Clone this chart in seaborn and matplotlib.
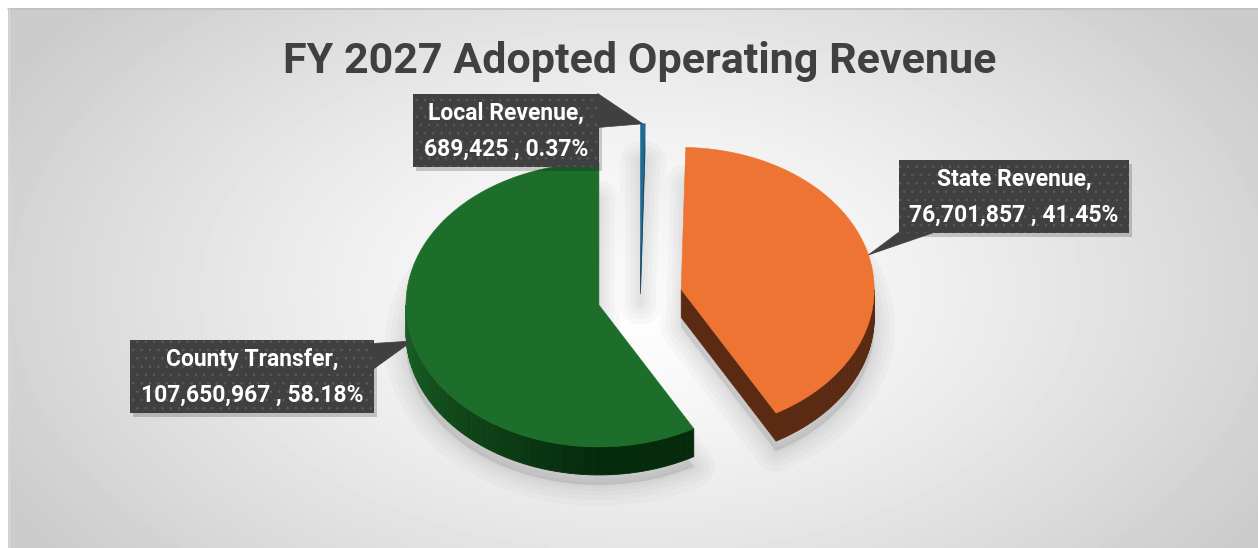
import numpy as np
import matplotlib
matplotlib.use("Agg")
import matplotlib.pyplot as plt
from matplotlib.patches import Polygon, Rectangle
from matplotlib.colors import to_rgb
import seaborn as sns

# data (clockwise from 12 o'clock, as in the original Excel chart)
categories = ["Local Revenue", "State Revenue", "County Transfer"]
values = [689425, 76701857, 107650967]
top_colors = ["#1f6b96", "#ed7433", "#1d6e2b"]
wall_dark = ["#123f58", "#5b2a13", "#062a0c"]
wall_light = ["#123f58", "#5b2a13", "#1a6226"]
title = "FY 2027 Adopted Operating Revenue"

# label box centres (pixel layout)
label_pos = [(506, 130), (1014, 196), (252, 376)]

sns.set_style("white")
plt.rcParams["font.family"] = ["Roboto", "DejaVu Sans"]
plt.rcParams["hatch.linewidth"] = 0.6

W, H = 1258, 548
fig = plt.figure(figsize=(W / 100, H / 100), dpi=100)
ax = fig.add_axes([0, 0, 1, 1])

# radial gradient background of the chart area
yy, xx = np.mgrid[8:H, 8:W]
r = np.sqrt(((xx - 640) / 720.0) ** 2 + ((yy - 290) / 430.0) ** 2)
img = 1 - 0.20 * np.clip(r, 0, 1) ** 1.3
ax.imshow(img, cmap="gray", vmin=0, vmax=1, extent=(8, W, H, 8),
          interpolation="bilinear", aspect="auto", zorder=0)
ax.plot([8, W], [8.5, 8.5], color="#c0c0c0", lw=1.2, zorder=1)
ax.plot([8.5, 8.5], [8, H], color="#d8d8d8", lw=1, zorder=1)

ax.set_xlim(0, W)
ax.set_ylim(H, 0)
ax.axis("off")

ax.text(640, 73, title, ha="center", va="baseline", fontsize=31,
        fontweight="bold", color="#404040", zorder=5)

# pie geometry (pixels)
CX, CY = 640, 297
RX, RY = 193, 142
DEPTH = 28
EXPLODE = 0.22

total = float(sum(values))
fracs = np.array(values) / total
bounds = np.concatenate([[0], np.cumsum(fracs)]) * 2 * np.pi


def rim(cx, cy, a):
    return cx + RX * np.sin(a), cy - RY * np.cos(a)


def mix(c1, c2, t):
    c1, c2 = np.array(to_rgb(c1)), np.array(to_rgb(c2))
    return tuple(c1 + (c2 - c1) * t)


slices = []
for i in range(len(values)):
    a0, a1 = bounds[i], bounds[i + 1]
    mid = (a0 + a1) / 2
    cx = CX + EXPLODE * RX * np.sin(mid)
    cy = CY - EXPLODE * RY * np.cos(mid)
    slices.append((a0, a1, mid, cx, cy))

# soft shadow under the pie
for a0, a1, mid, cx, cy in slices:
    aa = np.linspace(a0, a1, 120)
    px, py = rim(cx, cy, aa)
    pts = np.column_stack([np.r_[cx, px], np.r_[cy, py] + DEPTH + 10])
    for lw in [30, 22, 15, 9, 4]:
        ax.add_patch(Polygon(pts, closed=True, facecolor="#606060",
                             edgecolor="#606060", lw=lw, alpha=0.035,
                             joinstyle="round", zorder=2))

for i, (a0, a1, mid, cx, cy) in enumerate(slices):
    # outer wall, visible on the front half
    w0, w1 = max(a0, np.pi / 2), min(a1, 1.5 * np.pi)
    if w1 > w0:
        steps = np.linspace(w0, w1, 60)
        for s0, s1 in zip(steps[:-1], steps[1:]):
            t = np.clip((0.5 * (s0 + s1) - np.pi) / (0.5 * np.pi), 0, 1)
            col = mix(wall_dark[i], wall_light[i], t)
            aa = np.linspace(s0, s1, 4)
            px, py = rim(cx, cy, aa)
            pts = np.column_stack([np.r_[px, px[::-1]],
                                   np.r_[py, py[::-1] + DEPTH]])
            ax.add_patch(Polygon(pts, closed=True, facecolor=col,
                                 edgecolor=col, lw=0.6, zorder=3))
    # radial cut faces
    for a, sign in [(a0, -1), (a1, 1)]:
        if sign * np.sin(a) > 1e-3:
            ex, ey = rim(cx, cy, a)
            pts = [(cx, cy), (ex, ey), (ex, ey + DEPTH), (cx, cy + DEPTH)]
            ax.add_patch(Polygon(pts, closed=True, facecolor=wall_dark[i],
                                 edgecolor=wall_dark[i], lw=0.5, zorder=3))
    # top face
    aa = np.linspace(a0, a1, 200)
    px, py = rim(cx, cy, aa)
    pts = np.column_stack([np.r_[cx, px], np.r_[cy, py]])
    ax.add_patch(Polygon(pts, closed=True, facecolor=top_colors[i],
                         edgecolor=top_colors[i], lw=0.4, zorder=4))

# data labels in dark callout boxes
renderer = fig.canvas.get_renderer()
for i, (a0, a1, mid, cx, cy) in enumerate(slices):
    bx, by = label_pos[i]
    txt = "{},\n{:,} , {:.2%}".format(categories[i], values[i], fracs[i])
    t = ax.text(bx, by + 1, txt, ha="center", va="center", fontsize=16.5,
                fontweight="bold", color="white", linespacing=1.7, zorder=9)
    bb = t.get_window_extent(renderer)
    bw, bh = bb.width + 21, 73
    x0, y0 = bx - bw / 2, by - bh / 2
    tip = rim(cx, cy, mid)
    if i == 0:
        tri = [tip, (x0 + bw - 1, y0), (x0 + bw - 1, y0 + 34)]
    elif i == 2:
        tri = [tip, (x0 + bw - 1, y0 + 4), (x0 + bw - 1, y0 + 30)]
    else:
        tri = [tip, (x0 + 1, y0 + bh - 1), (x0 + 38, y0 + bh - 1)]
    # shadow
    ax.add_patch(Rectangle((x0 + 3, y0 + 4), bw, bh, facecolor="#000000",
                           alpha=0.18, lw=0, zorder=6))
    ax.add_patch(Polygon(tri, closed=True, facecolor="#404040",
                         edgecolor="#404040", lw=0.5, zorder=7))
    ax.add_patch(Rectangle((x0, y0), bw, bh, facecolor="#404040",
                           edgecolor="#5a5a5a", hatch="..", lw=0, zorder=8))

fig.savefig("out.png", dpi=100)
